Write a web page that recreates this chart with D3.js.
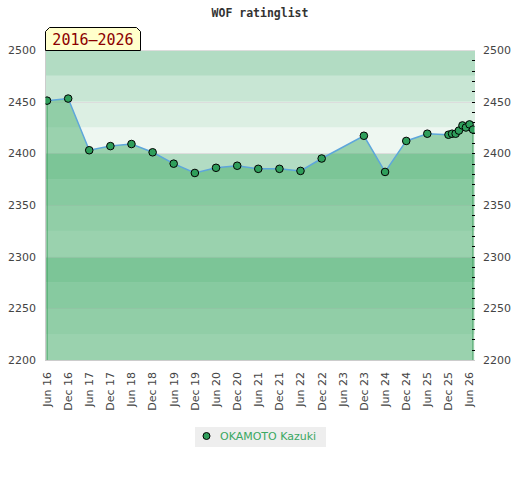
<!DOCTYPE html>
<html><head><meta charset="utf-8">
<script src="https://cdn.jsdelivr.net/npm/d3@7/dist/d3.min.js"></script>
<style>
html,body{margin:0;padding:0;background:#fff;}
svg{display:block;}
</style></head>
<body>
<script>
const title = "WOF ratinglist";
const periodLabel = "2016–2026";
const playerName = "OKAMOTO Kazuki";
const listDates = ["2016-06","2016-12","2017-06","2017-12","2018-06","2018-12","2019-06","2019-12",
  "2020-06","2020-12","2021-06","2021-12","2022-06","2022-12","2023-12","2024-06","2024-12",
  "2025-06","2025-12","2026-01","2026-02","2026-03","2026-04","2026-05","2026-06","2026-07"];
const ratings = [2451,2453,2403,2407,2409,2401,2390,2381,2386,2388,2385,2385,2383,2395,2417,2382,2412,
  2419,2418,2419,2419,2422,2427,2425,2428,2423];
const xTickLabels = ["Jun 16","Dec 16","Jun 17","Dec 17","Jun 18","Dec 18","Jun 19","Dec 19","Jun 20","Dec 20",
  "Jun 21","Dec 21","Jun 22","Dec 22","Jun 23","Dec 23","Jun 24","Dec 24","Jun 25","Dec 25","Jun 26"];
const yTicks = [2200,2250,2300,2350,2400,2450,2500];
const bandColors = ["#b2dcc3","#c8e6d4","#dcefe3","#eef7f1"];

(function(){
const W = 520, H = 480;
const pL = 46, pR = 474, pT = 50, pB = 360;
const parseM = d3.timeParse("%Y-%m");
const parseT = d3.timeParse("%b %y");
const data = listDates.map((d,i)=>({date: parseM(d), r: ratings[i]}));

const x = d3.scaleTime().domain([parseM(listDates[0]), parseM(listDates[listDates.length-1])]).range([47, 473]);
const y = d3.scaleLinear().domain([2200,2500]).range([pB, pT]);

const svg = d3.select("body").append("svg").attr("width", W).attr("height", H);
const font = "'DejaVu Sans', sans-serif";

svg.append("defs").append("clipPath").attr("id","plotclip")
  .append("rect").attr("x", pL - 0.5).attr("y", pT - 6).attr("width", pR - pL + 1).attr("height", pB - pT + 12);

// bands
const bandEdges = d3.range(2200, 2500, 25);
svg.append("g").selectAll("rect").data(bandEdges).join("rect")
  .attr("x", pL).attr("width", pR - pL + 1)
  .attr("y", d => y(d + 25)).attr("height", d => y(d) - y(d + 25))
  .attr("fill", d => bandColors[Math.round((2500 - (d + 25)) / 25) % 4]);

// grid lines
svg.append("g").selectAll("line").data(yTicks).join("line")
  .attr("x1", pL).attr("x2", pR + 1)
  .attr("y1", d => Math.round(y(d)) + 0.5).attr("y2", d => Math.round(y(d)) + 0.5)
  .attr("stroke", "#dddddd").attr("stroke-width", 1);

// area
const area = d3.area().x(d => x(d.date)).y0(y(2200)).y1(d => y(d.r));
svg.append("path").datum(data).attr("d", area)
  .attr("fill", "rgb(69,174,108)").attr("fill-opacity", 0.5);

// borders
svg.append("line").attr("x1", pL - 0.5).attr("x2", pL - 0.5).attr("y1", pT).attr("y2", pB + 1)
  .attr("stroke", "#cccccc");
svg.append("line").attr("x1", pL - 1).attr("x2", pR + 1).attr("y1", pB + 0.5).attr("y2", pB + 0.5)
  .attr("stroke", "#cccccc");

// area side edges
const first = data[0], last = data[data.length-1];
svg.append("line").attr("x1", x(first.date)).attr("x2", x(first.date)).attr("y1", y(first.r)).attr("y2", y(2200))
  .attr("stroke", "#3d9e5c").attr("stroke-width", 1);
svg.append("line").attr("x1", x(last.date)).attr("x2", x(last.date)).attr("y1", y(last.r)).attr("y2", y(2200))
  .attr("stroke", "#3d9e5c").attr("stroke-width", 1);

// right minor ticks
svg.append("g").selectAll("line").data(d3.range(2210, 2500, 10)).join("line")
  .attr("x1", pR - 2).attr("x2", pR + 1)
  .attr("y1", d => Math.round(y(d)) + 0.5).attr("y2", d => Math.round(y(d)) + 0.5)
  .attr("stroke", "#000").attr("stroke-width", 1);

// line
const line = d3.line().x(d => x(d.date)).y(d => y(d.r));
svg.append("path").datum(data).attr("d", line)
  .attr("fill", "none").attr("stroke", "#5ea6db").attr("stroke-width", 1.5);

// points
svg.append("g").attr("clip-path", "url(#plotclip)").selectAll("circle").data(data).join("circle")
  .attr("cx", d => x(d.date)).attr("cy", d => y(d.r)).attr("r", 3.8)
  .attr("fill", "#2f9e5b").attr("stroke", "#000").attr("stroke-width", 1);

// y labels
const yl = svg.append("g").attr("font-family", font).attr("font-size", 11).attr("fill", "#444");
yl.selectAll("text.l").data(yTicks).join("text").attr("class","l")
  .attr("x", 36).attr("y", d => y(d)).attr("dy", "0.35em").attr("text-anchor", "end").text(d => d);
yl.selectAll("text.r").data(yTicks).join("text").attr("class","r")
  .attr("x", 483).attr("y", d => y(d)).attr("dy", "0.35em").attr("text-anchor", "start").text(d => d);

// x labels
svg.append("g").attr("font-family", font).attr("font-size", 11).attr("fill", "#444")
  .selectAll("text").data(xTickLabels).join("text")
  .attr("transform", d => `translate(${x(parseT(d))},372) rotate(-90)`)
  .attr("dy", "0.35em").attr("text-anchor", "end").text(d => d);

// title
svg.append("text").attr("x", 260).attr("y", 17).attr("text-anchor", "middle")
  .attr("font-family", "'DejaVu Sans Mono', monospace").attr("font-weight", "bold").attr("font-size", 11.5)
  .attr("fill", "#333").text(title);

// period box
const bx0 = 45.5, bx1 = 140.5, by0 = 27.5, by1 = 50.5, c = 4;
svg.append("path")
  .attr("d", `M${bx0},${by1} L${bx0},${by0 + c} L${bx0 + c},${by0} L${bx1 - c},${by0} L${bx1},${by0 + c} L${bx1},${by1} Z`)
  .attr("fill", "#ffffcc").attr("stroke", "#000").attr("stroke-width", 1);
svg.append("text").attr("x", (bx0 + bx1) / 2).attr("y", 45).attr("text-anchor", "middle")
  .attr("font-family", "'DejaVu Sans Mono', monospace").attr("font-size", 15)
  .attr("fill", "#8b0000").text(periodLabel);

// legend
svg.append("rect").attr("x", 195).attr("y", 427).attr("width", 131).attr("height", 20).attr("fill", "#eeeeee");
svg.append("circle").attr("cx", 206.5).attr("cy", 436).attr("r", 3.5)
  .attr("fill", "#2f9e5b").attr("stroke", "#000").attr("stroke-width", 1);
svg.append("text").attr("x", 220).attr("y", 440).attr("font-family", font).attr("font-size", 11)
  .attr("fill", "#3aa862").text(playerName);
})();
</script>
</body></html>
